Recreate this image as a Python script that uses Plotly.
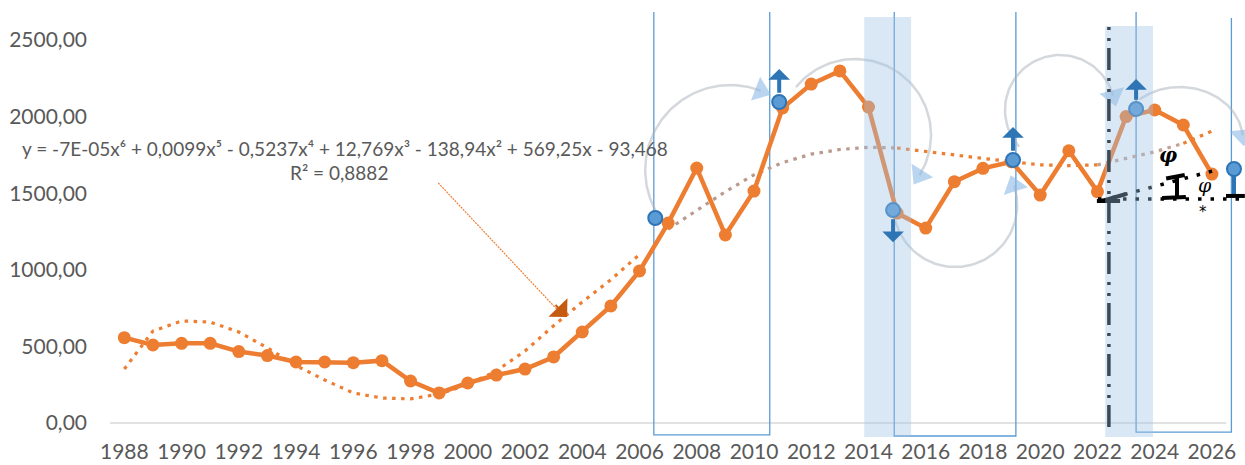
import numpy as np
import plotly.graph_objects as go

# ---------------- data ----------------
years = list(range(1988, 2027))
values = [557, 509, 520, 520, 466, 440, 398, 398, 394, 407,
          274, 196, 261, 313, 352, 431, 594, 764, 992, 1305,
          1664, 1227, 1514, 2056, 2212, 2298, 2062, 1370, 1272, 1575,
          1662, 1705, 1488, 1777, 1510, 2000, 2043, 1945, 1625]
trend = [352, 600, 666, 659, 594, 490, 375, 281, 196, 163,
         157, 189, 250, 340, 470, 635, 790, 935, 1100, 1265,
         1385, 1510, 1620, 1700, 1755, 1785, 1800, 1795, 1775, 1750,
         1727, 1707, 1685, 1680, 1685, 1725, 1770, 1825, 1905]
ytick_vals = [0, 500, 1000, 1500, 2000, 2500]
ytick_text = ["0,00", "500,00", "1000,00", "1500,00", "2000,00", "2500,00"]
xtick_vals = list(range(1988, 2027, 2))

# trend pieces that sit under the faded overlay boxes (index ranges into years)
trend_pieces = [(0, 19, "#ED7D31"), (19, 28, "#B99A8C"), (27, 35, "#ED7D31"),
                (34, 38, "#C2A194"), (37, 39, "#ED7D31")]

# blue turning-point markers and their arrows
blue_x = [2006.55, 2010.88, 2014.86, 2019.05, 2023.35, 2026.77]
blue_y = [1338, 2095, 1390, 1717, 2050, 1658]
blue_tip = [None, 2311, 1180, 1932, 2245, None]

# blue pulse outlines (left x, right x, bottom, top-left, top-right)
pulse_left = [2006.5, 2014.9, 2023.35]
pulse_right = [2010.55, 2019.15, 2026.68]
pulse_bottom = [-78, -85, -59]
pulse_top_l = [2683, 2683, 2683]
pulse_top_r = [2683, 2683, 2644]

# light-blue vertical bands (x0, x1, y0, y1)
band_x0 = [2013.85, 2022.27]
band_x1 = [2015.49, 2023.94]
band_y0 = [-117, -176]
band_y1 = [2650, 2591]

# gray circular arrows: centre (year, value), radii (px), start/end angle (deg)
arc_cx = [2009.17, 2013.53, 2017.03, 2020.69, 2024.88]
arc_cy = [1651, 1880, 1423, 2043, 1847]
arc_rx = [85, 76, 62, 55, 63]
arc_ry = [85, 76, 62, 55, 53]
arc_a0 = [218, 141, 195, 222, 130]
arc_a1 = [69, -32, 378, 15, 5]

# ---------------- geometry ----------------
W, H = 1245, 465
ML, MR, MT, MB = 110, 0, 0, 28
XR = [1987.5, 2027.155]
YR = [-91.4, 2761]
PXY = (W - ML - MR) / (XR[1] - XR[0])
PXV = (H - MT - MB) / (YR[1] - YR[0])

GRAY = "#595959"
ORANGE = "#ED7D31"
BLUE = "#5B9BD5"
DBLUE = "#2E75B6"
FONT = "Lato"

fig = go.Figure()

# pulses
px_, py_ = [], []
for l, r, b, tl, tr in zip(pulse_left, pulse_right, pulse_bottom, pulse_top_l, pulse_top_r):
    px_ += [l, l, r, r, None]
    py_ += [tl, b, b, tr, None]
fig.add_trace(go.Scatter(x=px_, y=py_, mode="lines",
                         line=dict(color=BLUE, width=1.3), hoverinfo="skip"))

# gray arcs with light-blue arrowheads
for cx, cy, rx, ry, a0, a1 in zip(arc_cx, arc_cy, arc_rx, arc_ry, arc_a0, arc_a1):
    t = np.radians(np.linspace(a0, a1, 80))
    xs = cx + rx * np.cos(t) / PXY
    ys = cy + ry * np.sin(t) / PXV
    fig.add_trace(go.Scatter(x=xs, y=ys, mode="lines",
                             line=dict(color="rgba(170,178,188,0.5)", width=2.5),
                             hoverinfo="skip"))
    s = 1 if a1 > a0 else -1
    te = np.radians(a1)
    dx = -rx * np.sin(te) * s
    dy = ry * np.cos(te) * s
    ang = -np.degrees(np.arctan2(dy, dx))
    fig.add_trace(go.Scatter(x=[xs[-1]], y=[ys[-1]], mode="markers",
                             marker=dict(symbol="triangle-right", size=22, angle=ang,
                                         color="rgba(140,185,228,0.6)", line=dict(width=0)),
                             hoverinfo="skip"))

# trend line (in pieces, some faded)
for i0, i1, col in trend_pieces:
    fig.add_trace(go.Scatter(x=years[i0:i1], y=trend[i0:i1], mode="lines",
                             line=dict(color=col, width=3.2, dash="3.5px,5.5px"),
                             hoverinfo="skip"))

# main series
fig.add_trace(go.Scatter(x=years, y=values, mode="lines+markers",
                         line=dict(color=ORANGE, width=4.5),
                         marker=dict(size=13, color=ORANGE)))

# thin orange pointer from equation to trend
ptr_x = [1998.97, 2003.25]
ptr_y = [1567, 715]
fig.add_trace(go.Scatter(x=ptr_x, y=ptr_y, mode="lines",
                         line=dict(color=ORANGE, width=1.2, dash="2px,1px"), hoverinfo="skip"))

# blue lollipop at the end
fig.add_trace(go.Scatter(x=[blue_x[5], blue_x[5]], y=[blue_y[5], 1475], mode="lines",
                         line=dict(color=DBLUE, width=4), hoverinfo="skip"))

# black geometry near the end
fig.add_trace(go.Scatter(x=[2022.40, 2022.40], y=[-26, 2631], mode="lines",
                         line=dict(color="black", width=3.5, dash="22px,7px,3px,8px,3px,8px"),
                         hoverinfo="skip"))
fig.add_trace(go.Scatter(x=[2022.02, 2027.15], y=[1462, 1462], mode="lines",
                         line=dict(color="black", width=3.5, dash="3.5px,9px"), hoverinfo="skip"))
fig.add_trace(go.Scatter(x=[2022.09, 2026.28], y=[1449, 1658], mode="lines",
                         line=dict(color="black", width=3.5, dash="3.5px,9px"), hoverinfo="skip"))
solid_x = [2021.98, 2022.79, None, 2022.16, 2023.0, None,
           2024.26, 2025.09, None, 2024.78, 2024.78, None, 2024.40, 2025.05, None,
           2026.49, 2027.15]
solid_y = [1449, 1449, None, 1449, 1495, None,
           1469, 1475, None, 1475, 1606, None, 1596, 1619, None,
           1482, 1482]
fig.add_trace(go.Scatter(x=solid_x, y=solid_y, mode="lines",
                         line=dict(color="black", width=4), hoverinfo="skip"))

# blue markers
fig.add_trace(go.Scatter(x=blue_x, y=blue_y, mode="markers",
                         marker=dict(size=14, color=BLUE, line=dict(color=DBLUE, width=2)),
                         hoverinfo="skip"))

annotations = []
for bx, by, tip in zip(blue_x, blue_y, blue_tip):
    if tip is None:
        continue
    start = by + (50 if tip > by else -50)
    annotations.append(dict(x=bx, y=tip, ax=bx, ay=start, xref="x", yref="y",
                            axref="x", ayref="y", showarrow=True, arrowhead=1,
                            arrowsize=0.9, arrowwidth=4, arrowcolor=DBLUE, text=""))
# orange arrowhead
annotations.append(dict(x=2003.47, y=692, ax=-13, ay=-13.5, xref="x", yref="y",
                        showarrow=True, arrowhead=1, arrowsize=2.2, arrowwidth=2,
                        arrowcolor="#C55A11", text=""))

# equation text
annotations.append(dict(x=1995.72, y=1795, xref="x", yref="y", showarrow=False,
                        text="y = -7E-05x⁶ + 0,0099x⁵ - 0,5237x⁴ + 12,769x³ - 138,94x² + 569,25x - 93,468",
                        font=dict(family=FONT, size=19, color=GRAY)))
annotations.append(dict(x=1995.5, y=1638, xref="x", yref="y", showarrow=False,
                        text="R² = 0,8882", font=dict(family=FONT, size=19, color=GRAY)))
# phi labels
annotations.append(dict(x=2024.47, y=1749, xref="x", yref="y", showarrow=False,
                        text="<b><i>φ</i></b>", font=dict(family="DejaVu Serif", size=20, color="black")))
annotations.append(dict(x=2025.76, y=1553, xref="x", yref="y", showarrow=False,
                        text="<i>φ</i>", font=dict(family="DejaVu Serif", size=19, color="black")))
annotations.append(dict(x=2025.69, y=1377, xref="x", yref="y", showarrow=False,
                        text="*", font=dict(family="DejaVu Sans", size=15, color="black")))

shapes = []
for x0, x1, y0, y1 in zip(band_x0, band_x1, band_y0, band_y1):
    shapes.append(dict(type="rect", xref="x", yref="y", x0=x0, x1=x1, y0=y0, y1=y1,
                       fillcolor="rgba(157,195,230,0.38)", line=dict(width=0), layer="above"))
shapes.append(dict(type="line", xref="x", yref="y", x0=1987.5, x1=2026.5, y0=0, y1=0,
                   line=dict(color="#D9D9D9", width=1.5), layer="below"))

fig.update_layout(
    width=W, height=H,
    margin=dict(l=ML, r=MR, t=MT, b=MB),
    paper_bgcolor="white", plot_bgcolor="white",
    showlegend=False,
    shapes=shapes, annotations=annotations,
    xaxis=dict(range=XR, tickmode="array", tickvals=xtick_vals,
               showgrid=False, zeroline=False, showline=False,
               tickfont=dict(family=FONT, size=21, color=GRAY), ticks=""),
    yaxis=dict(range=YR, tickmode="array", tickvals=ytick_vals, ticktext=ytick_text,
               showgrid=False, zeroline=False, showline=False,
               ticklabelstandoff=22,
               tickfont=dict(family=FONT, size=21, color=GRAY), ticks=""),
)

fig.write_html("out.html", config={"displayModeBar": False},
               post_script="document.body.style.margin='0px';document.body.style.overflow='hidden';")
